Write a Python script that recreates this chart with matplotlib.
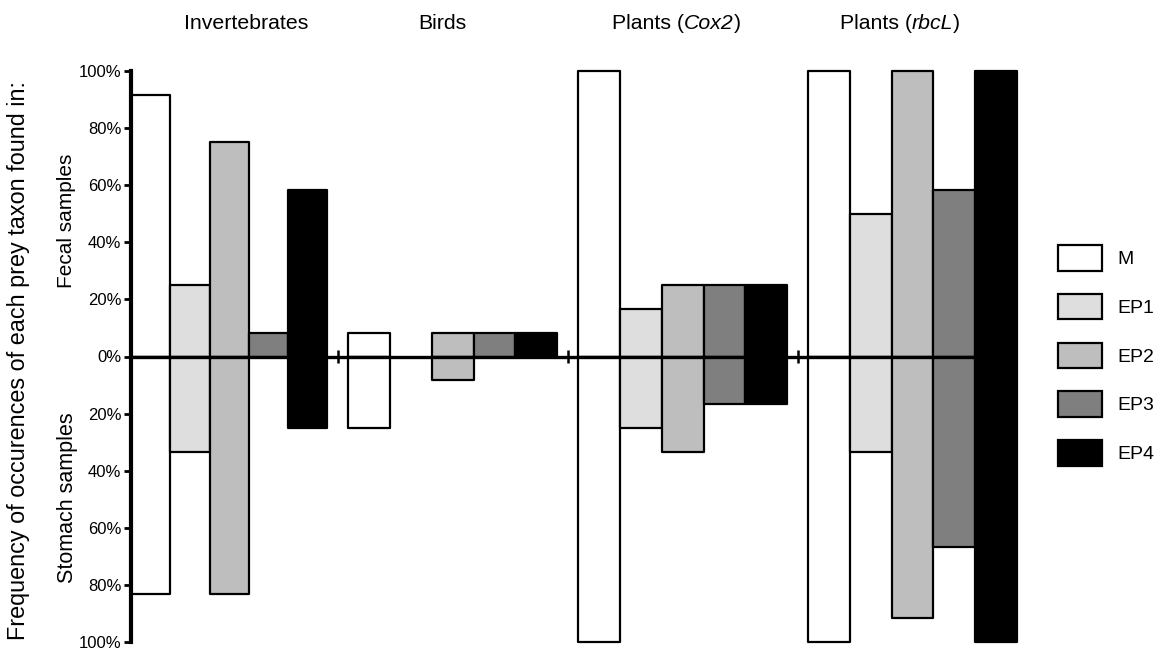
import matplotlib
matplotlib.use("Agg")
import matplotlib.pyplot as plt
from matplotlib.patches import Patch
from matplotlib.transforms import blended_transform_factory

plt.rcParams["font.family"] = ["Liberation Sans", "DejaVu Sans"]

# Prey groups: plain part of the name and the italic marker name (if any)
groups = ["Invertebrates", "Birds", "Plants", "Plants"]
markers = [None, None, "Cox2", "rbcL"]
categories = ["M", "EP1", "EP2", "EP3", "EP4"]

# Frequency of occurrence (%) in fecal samples (drawn upward), per group, per category
fecal = [
    [91.7, 25.0, 75.0, 8.3, 58.3],
    [8.3, 0.0, 8.3, 8.3, 8.3],
    [100.0, 16.7, 25.0, 25.0, 25.0],
    [100.0, 50.0, 100.0, 58.3, 100.0],
]
# Frequency of occurrence (%) in stomach samples (drawn downward)
stomach = [
    [83.3, 33.3, 83.3, 0.0, 25.0],
    [25.0, 0.0, 8.3, 0.0, 0.0],
    [100.0, 25.0, 33.3, 16.7, 16.7],
    [100.0, 33.3, 91.7, 66.7, 100.0],
]

y_ticks = [-100, -80, -60, -40, -20, 0, 20, 40, 60, 80, 100]
y_ticklabels = ["100%", "80%", "60%", "40%", "20%", "0%", "20%", "40%", "60%", "80%", "100%"]

colors = ["#ffffff", "#dedede", "#bebebe", "#7f7f7f", "#000000"]

# Layout of the bar groups along x
group_start = [0.0, 5.2, 10.7, 16.2]
bar_width = [0.94, 1.0, 1.0, 1.0]
separators = [4.95, 10.45, 15.95]
title_left = [1.27, 6.87, 11.51, 16.96]

fig = plt.figure(figsize=(11.63, 6.48), dpi=100)
ax = fig.add_axes([131 / 1163, 1 - 642 / 648, (1017 - 131) / 1163, (642 - 71) / 648])
ax.set_xlim(0, 21.2)
ax.set_ylim(-100, 100)

for g in range(len(groups)):
    for c in range(len(categories)):
        x0 = group_start[g] + c * bar_width[g]
        for val, sign in ((fecal[g][c], 1), (stomach[g][c], -1)):
            if val > 0:
                ax.bar(x0, sign * val, width=bar_width[g], align="edge",
                       color=colors[c], edgecolor="black", linewidth=1.6,
                       joinstyle="round", clip_on=False, zorder=2)

ax.axhline(0, color="black", linewidth=2.4, zorder=3)
for s in separators:
    ax.plot([s, s], [-2.3, 2.3], color="black", linewidth=1.8, zorder=3,
            solid_capstyle="butt")

# Group titles above the bars, with gene markers in italics
title_tr = blended_transform_factory(ax.transData, fig.transFigure)
title_y = 1 - 29 / 648
for g, name in enumerate(groups):
    if markers[g] is None:
        ax.text(title_left[g], title_y, name, transform=title_tr, fontsize=15.3,
                ha="left", va="baseline")
    else:
        t1 = ax.text(title_left[g], title_y, name + " (", transform=title_tr,
                     fontsize=15.3, ha="left", va="baseline")
        t2 = ax.annotate(markers[g], xy=(1, title_y), xycoords=(t1, "figure fraction"),
                         fontsize=15.3, fontstyle="italic", ha="left", va="baseline")
        ax.annotate(")", xy=(1, title_y), xycoords=(t2, "figure fraction"),
                    fontsize=15.3, ha="left", va="baseline")

for side in ("top", "right", "bottom"):
    ax.spines[side].set_visible(False)
ax.spines["left"].set_linewidth(3)
ax.set_xticks([])
ax.set_yticks(y_ticks)
ax.set_yticklabels(y_ticklabels, fontsize=12)
ax.tick_params(axis="y", length=5, width=2, pad=2)

fig.text(19 / 1163, 1 - 361 / 648, "Frequency of occurences of each prey taxon found in:",
         rotation=90, fontsize=16.8, ha="center", va="center")
fig.text(67 / 1163, 1 - 221 / 648, "Fecal samples", rotation=90, fontsize=15,
         ha="center", va="center")
fig.text(67 / 1163, 1 - 498 / 648, "Stomach samples", rotation=90, fontsize=15.5,
         ha="center", va="center")

handles = [Patch(facecolor=colors[i], edgecolor="black", linewidth=1.6, joinstyle="round")
           for i in range(len(categories))]
fig.legend(handles, categories, loc="upper left",
           bbox_to_anchor=(1058 / 1163, 1 - 245 / 648), frameon=False,
           fontsize=14, handlelength=2.26, handleheight=1.65, handletextpad=0.8,
           labelspacing=1.19, borderpad=0, borderaxespad=0)

fig.savefig("out.png", dpi=100, facecolor="white")
